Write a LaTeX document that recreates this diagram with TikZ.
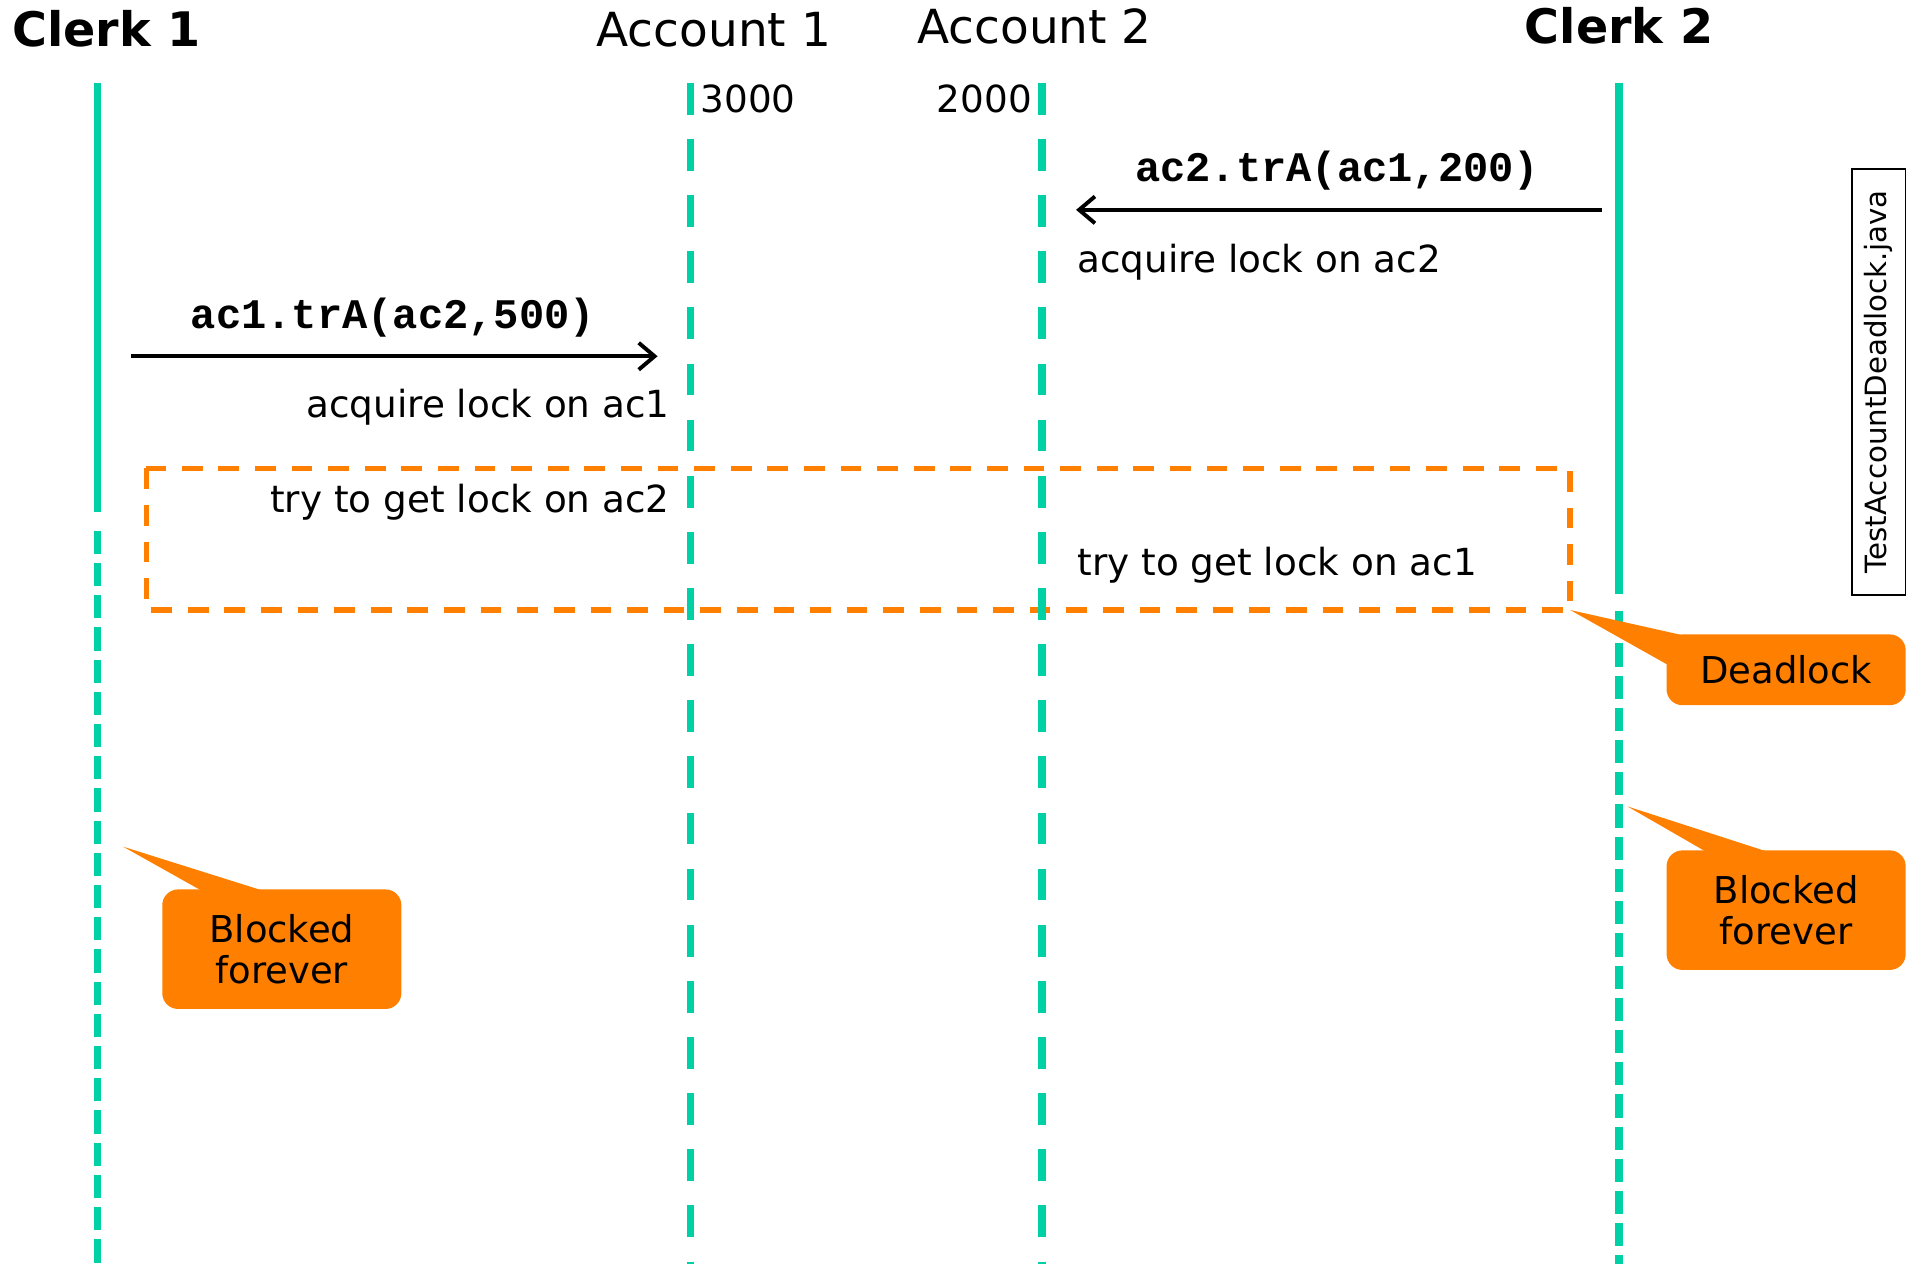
\documentclass[tikz,border=0pt]{standalone}
\usepackage{fontspec}
\setmainfont{DejaVu Sans}
\setmonofont{Liberation Mono}
\usetikzlibrary{arrows.meta,calc}
\definecolor{life}{RGB}{0,208,165}
\definecolor{dlorange}{RGB}{255,127,0}
\begin{document}
\begin{tikzpicture}[x=1pt,y=-1pt,
  head/.style={font=\fontsize{38.5}{44}\selectfont, inner sep=0},
  clerkhead/.style={font=\fontsize{39}{44}\selectfont\bfseries, inner sep=0},
  lbl/.style={font=\fontsize{30.6}{34}\selectfont, inner sep=0},
  code/.style={font=\fontsize{34.5}{38}\selectfont\ttfamily\bfseries, inner sep=0},
  lifesolid/.style={draw=life, line width=6pt},
  clerkdash/.style={draw=life, line width=6pt, dash pattern=on 19pt off 7.4pt},
  acctdash/.style={draw=life, line width=6pt, dash pattern=on 26pt off 20pt},
  msg/.style={draw=black, line width=3.2pt, -{Straight Barb[length=13pt,width=22pt]}},
  zone/.style={draw=dlorange, line width=4.5pt, dash pattern=on 17pt off 13pt},
  callout/.style={fill=dlorange, rounded corners=13pt, font=\fontsize{30.3}{34}\selectfont, align=center, inner sep=0},
  filebox/.style={draw=black, line width=1.2pt, rotate=90, minimum width=349pt, minimum height=44pt, font=\fontsize{24}{27}\selectfont, inner sep=0}
]
\useasboundingbox (0,0) rectangle (1568,1036);

% headers
\node[clerkhead, anchor=base west] (c1) at (10,38) {Clerk 1};
\node[head, anchor=base] (a1) at (585,38) {Account 1};
\node[head, anchor=base] (a2) at (848,36) {Account 2};
\node[clerkhead, anchor=base] (c2) at (1327,36) {Clerk 2};

% deadlock zone
\coordinate (zoneNW) at (120,384);
\coordinate (zoneSE) at (1287,500);
\draw[zone] (zoneNW) rectangle (zoneSE);

% lifelines
\coordinate (c1top) at (80,68);  \coordinate (c1brk) at (80,420);
\coordinate (c1dash) at (80,435); \coordinate (c1bot) at (80,1036);
\draw[lifesolid] (c1top) -- (c1brk);
\draw[clerkdash] (c1dash) -- (c1bot);

\coordinate (a1top) at (566,68); \coordinate (a1bot) at (566,1036);
\draw[acctdash] (a1top) -- (a1bot);
\coordinate (a2top) at (854,68); \coordinate (a2bot) at (854,1036);
\draw[acctdash] (a2top) -- (a2bot);

\coordinate (c2top) at (1327,68);  \coordinate (c2brk) at (1327,487);
\coordinate (c2dash) at (1327,501); \coordinate (c2bot) at (1327,1036);
\draw[lifesolid] (c2top) -- (c2brk);
\draw[clerkdash] (c2dash) -- (c2bot);

% balances
\node[lbl, anchor=base west] (bal1) at (574,92) {3000};
\node[lbl, anchor=base east] (bal2) at (846,92) {2000};

% message 1 (Clerk 2 -> Account 2)
\coordinate (m1s) at (1313,172); \coordinate (m1e) at (882,172);
\draw[msg] (m1s) -- (m1e);
\node[code, anchor=base] (m1lbl) at (1096,149) {ac2.trA(ac1,200)};
\node[lbl, anchor=base west] (m1note) at (883,223) {acquire lock on ac2};

% message 2 (Clerk 1 -> Account 1)
\coordinate (m2s) at (107,292); \coordinate (m2e) at (539,292);
\draw[msg] (m2s) -- (m2e);
\node[code, anchor=base] (m2lbl) at (322,269) {ac1.trA(ac2,500)};
\node[lbl, anchor=base east] (m2note) at (549,342) {acquire lock on ac1};

% tries
\node[lbl, anchor=base east] (try2) at (549,420) {try to get lock on ac2};
\node[lbl, anchor=base west] (try1) at (883,472) {try to get lock on ac1};

% callouts
\node[callout, minimum width=196pt, minimum height=58pt] (dl) at (1464,549) {Deadlock};
\coordinate (dltip) at (1287,500);
\fill[dlorange] (dltip) -- ($(dl.north west)+(14,1)$) -- ($(dl.north west)+(1,25)$) -- cycle;

\node[callout, minimum width=196pt, minimum height=98pt] (bf1) at (231,778) {Blocked\\forever};
\coordinate (bf1tip) at (101,694);
\fill[dlorange] (bf1tip) -- ($(bf1.north west)+(82,1)$) -- ($(bf1.north west)+(32,1)$) -- cycle;

\node[callout, minimum width=196pt, minimum height=98pt] (bf2) at (1464,746) {Blocked\\forever};
\coordinate (bf2tip) at (1334,661);
\fill[dlorange] (bf2tip) -- ($(bf2.north west)+(82,1)$) -- ($(bf2.north west)+(32,1)$) -- cycle;

% file name
\node[filebox] (file) at (1540,313) {TestAccountDeadlock.java};
\end{tikzpicture}
\end{document}
